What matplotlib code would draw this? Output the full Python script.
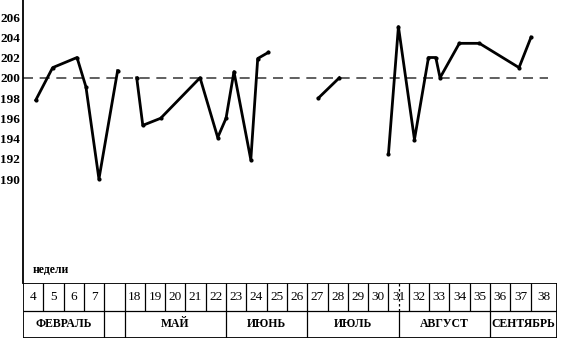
import numpy as np
import matplotlib
matplotlib.use('Agg')
import matplotlib.pyplot as plt

## Data (x in table column units, y in chart units)
seg1_x = [0.63, 1.46, 2.66, 3.10, 3.74, 4.66]
seg1_y = [197.8, 201.0, 202.0, 199.1, 190.0, 200.7]

seg2_x = [5.60, 5.90, 6.78, 8.72, 9.59, 10.00, 10.39, 11.22, 11.56, 12.08]
seg2_y = [200.0, 195.3, 196.0, 200.0, 194.1, 196.0, 200.6, 191.9, 201.9, 202.5]

seg3_x = [14.55, 15.58]
seg3_y = [198.0, 200.0]

seg4_x = [18.00, 18.49, 19.28, 19.97, 20.33, 20.54, 21.49, 22.48, 24.43, 25.02]
seg4_y = [192.5, 205.05, 193.9, 202.0, 202.0, 200.0, 203.4, 203.4, 201.0, 204.0]

norm_level = 200
y_ticks = [190, 192, 194, 196, 198, 200, 202, 204, 206]

week_labels = ['4', '5', '6', '7', '', '18', '19', '20', '21', '22', '23', '24', '25',
               '26', '27', '28', '29', '30', '31', '32', '33', '34', '35', '36', '37', '38']
col_widths = [1.0] * 25 + [1.3]

month_names = ['ФЕВРАЛЬ', '', 'МАЙ', 'ИЮНЬ', 'ИЮЛЬ', 'АВГУСТ', 'СЕНТЯБРЬ']
month_bounds = [0, 4, 5, 10, 14, 18.5, 23, 26]   # column index where each month starts

## Figure
fig = plt.figure(figsize=(5.68, 3.49), dpi=100)
W, H = 568.0, 349.0
ax = fig.add_axes([23 / W, (H - 283) / H, 534 / W, 283 / H])
tab = fig.add_axes([23 / W, (H - 338) / H, 534 / W, 55 / H])

edges = np.concatenate([[0], np.cumsum(col_widths)])
x_max = edges[-1]

serif = 'Liberation Serif'

# chart
xs = seg1_x + [np.nan] + seg2_x + [np.nan] + seg3_x + [np.nan] + seg4_x
ys = seg1_y + [np.nan] + seg2_y + [np.nan] + seg3_y + [np.nan] + seg4_y
ax.axhline(norm_level, xmin=0, xmax=25.86 / x_max, color='#444444', lw=1.2,
           dashes=(6, 4))
ax.plot(xs, ys, color='black', lw=2.0, marker='o', ms=2.0, solid_joinstyle='round')

ax.set_xlim(0, x_max)
ax.set_ylim(179.73, 207.68)
ax.set_yticks(y_ticks)
ax.set_yticklabels([str(t) for t in y_ticks], fontfamily=serif, fontweight='bold',
                   fontsize=9.5)
ax.tick_params(axis='y', length=0, pad=2)
ax.set_xticks([])
for s in ['top', 'right', 'bottom']:
    ax.spines[s].set_visible(False)
ax.spines['left'].set_linewidth(1.3)
ax.patch.set_alpha(0)
ax.text(0.5, 180.45, 'недели', fontfamily=serif, fontweight='bold', fontsize=8.5,
        ha='left', va='bottom')

# table below
tab.set_xlim(0, x_max)
tab.set_ylim(0, 2)
tab.axis('off')
lw_out, lw_in = 1.3, 0.9
tab.hlines([0, 2], 0, x_max, color='black', lw=lw_out)
tab.hlines(1, 0, x_max, color='black', lw=lw_in)
tab.vlines([0, x_max], 0, 2, color='black', lw=lw_out)
for e in edges[1:-1]:
    tab.vlines(e, 1, 2, color='black', lw=lw_in)
for i, lab in enumerate(week_labels):
    tab.text((edges[i] + edges[i + 1]) / 2, 1.5, lab, ha='center', va='center',
             fontfamily=serif, fontsize=9.5)
# dotted split inside week 31
c31 = week_labels.index('31')
tab.vlines((edges[c31] + edges[c31 + 1]) / 2, 1, 2, color='black', lw=0.9,
           linestyles=(0, (2, 2)))
for j, name in enumerate(month_names):
    a = month_bounds[j]
    b = month_bounds[j + 1]
    xa = np.interp(a, np.arange(len(edges)), edges)
    xb = np.interp(b, np.arange(len(edges)), edges)
    if j > 0:
        tab.vlines(xa, 0, 1, color='black', lw=lw_in)
    if name:
        tab.text((xa + xb) / 2, 0.5, name, ha='center', va='center',
                 fontfamily=serif, fontweight='bold', fontsize=8.5)

fig.savefig('out.png', dpi=100, facecolor='white')
